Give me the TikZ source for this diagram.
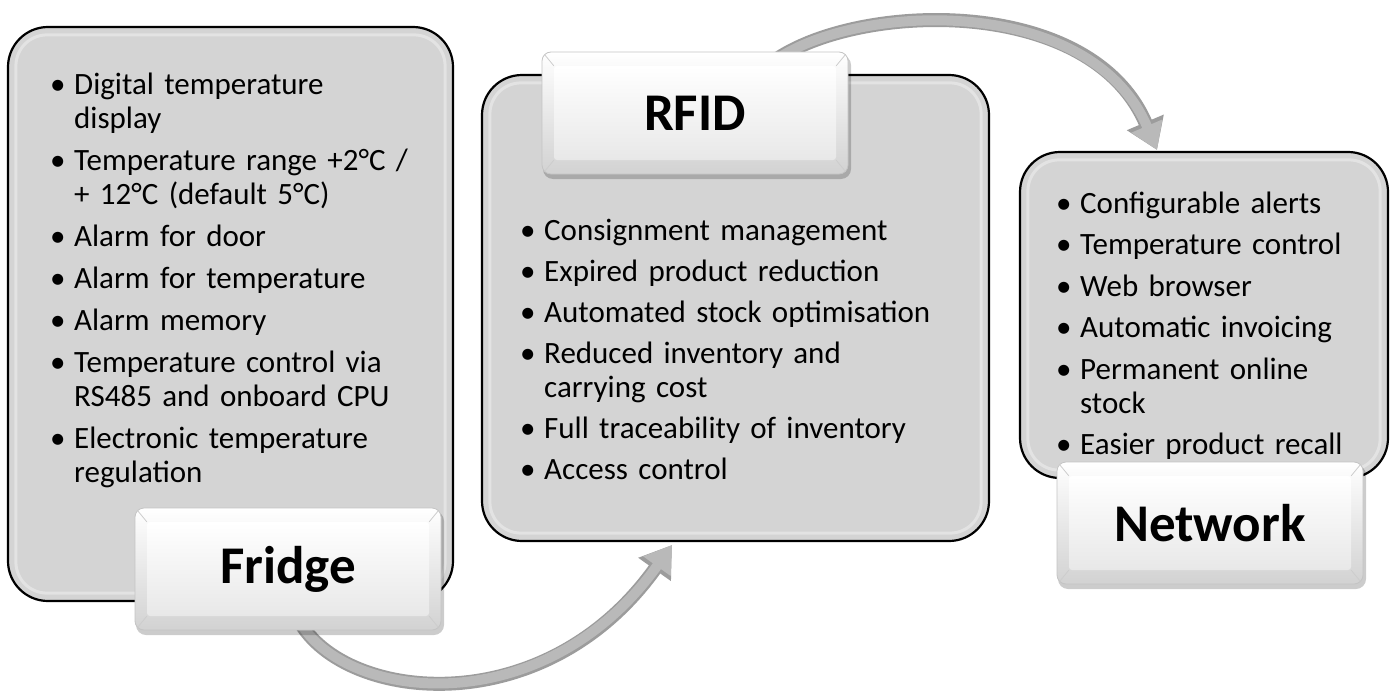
\documentclass[tikz,border=0pt]{standalone}
\usepackage{fontspec}
\setmainfont{Carlito}
\usetikzlibrary{arrows.meta,calc}
\definecolor{boxgray}{HTML}{D4D4D4}
\definecolor{bevellight}{HTML}{E3E3E3}
\definecolor{rimgray}{HTML}{C4C4C4}
\definecolor{rimbottom}{HTML}{D2D2D2}
\definecolor{facebottom}{HTML}{E8E8E8}
\definecolor{arrowdark}{HTML}{9C9C9C}
\definecolor{arrowlight}{HTML}{B9B9B9}
\definecolor{bevelgray}{HTML}{CDCDCD}
\newlength\itemgap
\setlength\itemgap{8pt}
\newcommand\bulf[1]{\noindent\hbox to 24pt{\rule{0pt}{25pt}\textbullet\hfil}#1\par}
\newcommand\bul[1]{\vspace{\itemgap}\bulf{#1}}
\newcommand\cont[1]{\noindent\hbox to 24pt{\rule{0pt}{25pt}\hfil}#1\par}
\newcommand\bevellines[2]{%
  \draw[bevline] ($(#1.north west)+(3,3)$) -- (#2.north west);
  \draw[bevline] ($(#1.north east)+(-3,3)$) -- (#2.north east);
  \draw[bevline] ($(#1.south west)+(3,-3)$) -- (#2.south west);
  \draw[bevline] ($(#1.south east)+(-3,-3)$) -- (#2.south east);}
\begin{document}
\begin{tikzpicture}[x=1pt,y=-1pt,
  bigbox/.style={draw=black, line width=2.2pt, fill=boxgray, rounded corners=40pt, inner sep=0pt},
  bevelin/.style={draw=bevellight, line width=3pt, rounded corners=31pt},
  titlebox/.style={rounded corners=9pt, draw=rimgray, line width=0.8pt, top color=white, bottom color=rimbottom, inner sep=0pt, minimum width=306pt, minimum height=122pt},
  titleface/.style={rounded corners=3pt, top color=white, bottom color=facebottom, inner sep=0pt, minimum width=282pt, minimum height=94pt, font=\fontsize{53}{56}\selectfont\bfseries},
  tshadow/.style={fill=black, opacity=0.2, rounded corners=10pt, minimum width=308pt, minimum height=124pt, inner sep=0pt},
  bevline/.style={draw=bevelgray, line width=0.8pt},
  listtext/.style={anchor=north west, inner sep=0pt, text width=440pt, align=left, font=\fontsize{31}{34}\selectfont\setlength{\parskip}{0pt}},
  arrowout/.style={line width=14pt, draw=arrowdark, -{Triangle[length=30pt,width=38pt]}},
  arrowin/.style={line width=10pt, draw=arrowlight, -{Triangle[length=26pt,width=32pt]}}
]
\useasboundingbox[fill=white] (0,0) rectangle (1394,693);

% connectors
\coordinate (a1s) at (295,612);
\coordinate (a1e) at (672,545);
\coordinate (a2s) at (770,64);
\coordinate (a2e) at (1157,150);
\draw[arrowout] (a1s) .. controls (330,700) and (540,730) .. (a1e);
\draw[arrowin]  (a1s) .. controls (330,700) and (540,730) .. (a1e);
\draw[arrowout] (a2s) .. controls (850,2) and (1090,-8) .. (a2e);
\draw[arrowin]  (a2s) .. controls (850,2) and (1090,-8) .. (a2e);

% big boxes
\node[bigbox, minimum width=445pt, minimum height=574pt] (fridgebox) at (230.5,314) {};
\node[bigbox, minimum width=507pt, minimum height=466pt] (rfidbox) at (735.5,308) {};
\node[bigbox, minimum width=368pt, minimum height=326pt] (netbox) at (1204,315) {};
\foreach \b in {fridgebox,rfidbox,netbox}
  \draw[bevelin] ($(\b.north west)+(9,9)$) rectangle ($(\b.south east)+(-9,-9)$);

% lists
\node[listtext] (fridgelist) at (50,69) {%
\bulf{Digital temperature}
\cont{display}
\bul{Temperature range +2°C /}
\cont{+ 12°C (default 5°C)}
\bul{Alarm for door}
\bul{Alarm for temperature}
\bul{Alarm memory}
\bul{Temperature control via}
\cont{RS485 and onboard CPU}
\bul{Electronic temperature}
\cont{regulation}};

\node[listtext] (rfidlist) at (520,215) {%
\setlength\itemgap{7pt}%
\bulf{Consignment management}
\bul{Expired product reduction}
\bul{Automated stock optimisation}
\bul{Reduced inventory and}
\cont{carrying cost}
\bul{Full traceability of inventory}
\bul{Access control}};

\node[listtext] (netlist) at (1056,188) {%
\setlength\itemgap{7.5pt}%
\bulf{Configurable alerts}
\bul{Temperature control}
\bul{Web browser}
\bul{Automatic invoicing}
\bul{Permanent online}
\cont{stock}
\bul{Easier product recall}};

% title labels
\node[tshadow] (fridgeshadow) at (290,573) {};
\node[titlebox] (fridgelbl) at (288,569) {};
\node[titleface] (fridgeface) at (288,569) {Fridge};
\bevellines{fridgelbl}{fridgeface}

\node[tshadow] (rfidshadow) at (697,117) {};
\node[titlebox] (rfidlbl) at (695,113) {};
\node[titleface] (rfidface) at (695,113) {RFID};
\bevellines{rfidlbl}{rfidface}

\node[tshadow] (netshadow) at (1212,527) {};
\node[titlebox] (netlbl) at (1210,523) {};
\node[titleface] (netface) at (1210,523) {Network};
\bevellines{netlbl}{netface}
\end{tikzpicture}
\end{document}
